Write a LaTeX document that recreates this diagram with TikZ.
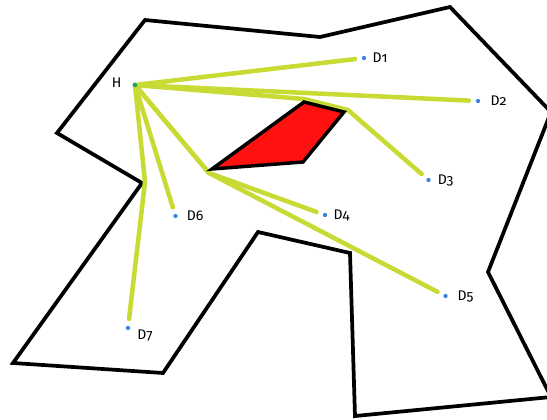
\documentclass[tikz,border=0pt]{standalone}
\usepackage{fontspec}
\setmainfont[Numbers=OldStyle]{Fira Sans}
\usepackage{xcolor}
\definecolor{routeGreen}{HTML}{C8DB35}
\definecolor{obstacleRed}{HTML}{FF1111}
\definecolor{dropBlue}{HTML}{3B7FE0}
\definecolor{homeGreen}{HTML}{1FA64A}
\tikzset{
    boundary/.style={draw=black, line width=2.8pt},
    obstacle/.style={draw=black, fill=obstacleRed, line width=2.6pt},
    route/.style={draw=routeGreen, line width=3.4pt, line cap=round, line join=round, shorten >=5pt},
    labelfont/.style={font=\fontsize{10.5}{12}\selectfont, inner sep=0pt},
    drop/.style 2 args={circle, fill=dropBlue, inner sep=0pt, minimum size=3.2pt, label={[labelfont, label distance=#2]right:#1}},
    home/.style={circle, fill=homeGreen, inner sep=0pt, minimum size=3.5pt, label={[labelfont, label distance=8pt, yshift=2pt]left:H}},
}

\begin{document}
\begin{tikzpicture}[x=0.75pt, y=-0.75pt]
    \useasboundingbox (0,0) rectangle (547,419);
    \clip (0,0) rectangle (547,419);

    % Area boundary
    \draw[boundary] (145,20) -- (320,37) -- (450,7) -- (551,112) -- (488,272) -- (551,397)
        -- (355,416) -- (350,253) -- (258,232) -- (163,373) -- (13,363) -- (142,183)
        -- (57,133) -- cycle;

    % Nodes
    \node[home] (H) at (135,85) {};
    \node[drop={D1}{4.5pt}] (D1) at (364,58) {};
    \node[drop={D2}{7.5pt}] (D2) at (478,101) {};
    \node[drop={D3}{5pt}] (D3) at (428.5,180) {};
    \node[drop={D4}{4.5pt}] (D4) at (325,215) {};
    \node[drop={D5}{7pt}] (D5) at (445.5,296) {};
    \node[drop={D6}{6.5pt}] (D6) at (175.5,216) {};
    \node[circle, fill=dropBlue, inner sep=0pt, minimum size=3.2pt,
          label={[labelfont, label distance=5pt, yshift=-5.5pt]right:D7}] (D7) at (128,328) {};

    % Bend points
    \coordinate (topA) at (304,99);
    \coordinate (topB) at (348,110);
    \coordinate (lowA) at (209,173);
    \coordinate (leftA) at (145,182);

    % Edges
    \draw[route] (H) -- (D1);
    \draw[route] (H) -- (D2);
    \draw[route] (H) -- (topA) -- (topB) -- (D3);
    \draw[route] (H) -- (lowA) -- (D4);
    \draw[route] (H) -- (lowA) -- (D5);
    \draw[route] (H) -- (D6);
    \draw[route] (H) -- (leftA) -- (D7);

    % Obstacle
    \draw[obstacle] (304,102) -- (344,112) -- (303,162) -- (212,169) -- cycle;

    % Dots on top
    \fill[homeGreen] (H) circle (1.75pt);
\end{tikzpicture}
\end{document}
